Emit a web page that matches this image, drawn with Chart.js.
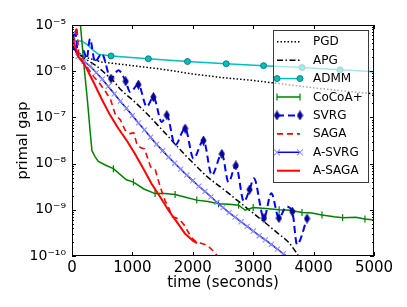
<!DOCTYPE html>
<html>
<head>
<meta charset="utf-8">
<script src="https://cdn.jsdelivr.net/npm/chart.js@4"></script>
<style>
	html, body { margin: 0; padding: 0; background: #fff; }
	#wrap { width: 407px; height: 307px; }
</style>
</head>
<body>
<div id="wrap"><canvas id="chart" width="407" height="307"></canvas></div>
<script>
const xTicks = [0, 1000, 2000, 3000, 4000, 5000];
const yTicks = [1e-10, 1e-9, 1e-8, 1e-7, 1e-6, 1e-5];
const yTickLabels = ['10⁻¹⁰', '10⁻⁹', '10⁻⁸', '10⁻⁷', '10⁻⁶', '10⁻⁵'];

// time (seconds) / primal gap
const pgdTime = [0, 100, 250, 491, 1000, 1500, 2000, 2500, 3000, 3500, 4000, 4500, 5000];
const pgdGap = [4.47e-6, 2.40e-6, 1.95e-6, 1.58e-6, 1.32e-6, 1.10e-6, 8.71e-7, 7.24e-7, 6.31e-7, 5.25e-7, 4.37e-7, 3.72e-7, 3.24e-7];

const apgTime = [0, 100, 200, 300, 400, 500, 600, 700, 800, 900, 1000, 1100, 1200, 1300, 1400, 1500, 1600, 1700, 1800, 1900,
	2000, 2100, 2200, 2300, 2400, 2500, 2600, 2700, 2800, 2900, 3000, 3100, 3200, 3300, 3400, 3500, 3600, 3700, 3800];
const apgGap = [3.55e-6, 2.40e-6, 1.91e-6, 1.58e-6, 1.32e-6, 1.02e-6, 7.76e-7, 5.89e-7, 4.07e-7, 3.09e-7, 2.40e-7, 1.82e-7, 1.35e-7,
	1.00e-7, 7.24e-8, 5.25e-8, 3.80e-8, 2.69e-8, 1.95e-8, 1.41e-8, 1.05e-8, 7.76e-9, 5.75e-9, 4.47e-9, 3.55e-9, 2.82e-9, 2.24e-9,
	1.74e-9, 1.38e-9, 1.07e-9, 8.51e-10, 6.61e-10, 5.25e-10, 4.07e-10, 3.16e-10, 2.51e-10, 1.91e-10, 1.26e-10, 7.94e-11];

const admmTime = [0, 160, 250, 353, 436, 646, 1265, 1912, 2553, 3172, 3808, 4438, 5000];
const admmGap = [4.68e-6, 4.47e-6, 3.80e-6, 2.82e-6, 2.34e-6, 2.14e-6, 1.86e-6, 1.62e-6, 1.45e-6, 1.32e-6, 1.20e-6, 1.07e-6, 9.77e-7];

const cocoaTime = [100, 140, 200, 260, 300, 330, 380, 436, 550, 685, 900, 1017, 1190, 1375, 1540, 1707, 1880, 2066, 2250, 2426,
	2600, 2758, 2868, 3000, 3255, 3430, 3614, 3808, 3970, 4139, 4339, 4480, 4700, 4850, 5000];
const cocoaGap = [2.00e-5, 1.00e-5, 1.26e-6, 2.00e-7, 5.01e-8, 1.91e-8, 1.41e-8, 1.12e-8, 9.33e-9, 7.76e-9, 4.47e-9, 3.98e-9,
	2.82e-9, 2.24e-9, 2.24e-9, 2.14e-9, 1.86e-9, 1.62e-9, 1.51e-9, 1.35e-9, 1.32e-9, 1.26e-9, 9.77e-10, 1.12e-9, 1.05e-9,
	1.00e-9, 9.77e-10, 8.71e-10, 8.51e-10, 7.76e-10, 7.08e-10, 6.76e-10, 6.92e-10, 6.31e-10, 6.03e-10];

const svrgTime = [0, 49, 104, 187, 243, 298, 381, 491, 646, 768, 889, 961, 1099, 1238, 1348, 1486, 1569, 1707, 1873, 2011,
	2177, 2315, 2481, 2591, 2713, 2846, 2940, 3012, 3178, 3300, 3426, 3548, 3648, 3725, 3891];
const svrgGap = [2.63e-6, 7.76e-6, 2.19e-6, 2.82e-6, 1.86e-6, 5.01e-6, 1.58e-6, 2.40e-6, 6.92e-7, 1.05e-6, 6.03e-7, 3.55e-7,
	5.13e-7, 1.70e-7, 2.75e-7, 7.94e-8, 1.12e-7, 2.51e-8, 5.75e-8, 1.29e-8, 3.16e-8, 5.62e-9, 1.62e-8, 3.98e-9, 9.12e-9,
	1.51e-9, 2.75e-9, 4.79e-9, 6.61e-10, 2.29e-9, 6.61e-10, 1.17e-9, 9.12e-10, 1.78e-10, 6.46e-10];

const sagaTime = [0, 40, 80, 110, 160, 270, 360, 450, 560, 640, 720, 800, 880, 960, 1020, 1080, 1140, 1200, 1300, 1380, 1460,
	1540, 1600, 1660, 1720, 1800, 1870, 1940, 2000, 2060, 2150, 2240, 2330, 2420];
const sagaGap = [3.98e-6, 5.01e-6, 9.12e-6, 2.51e-6, 2.04e-6, 1.12e-6, 7.59e-7, 5.62e-7, 3.55e-7, 2.40e-7, 1.12e-7, 8.91e-8,
	5.25e-8, 4.47e-8, 4.68e-8, 2.51e-8, 2.19e-8, 2.09e-8, 8.51e-9, 7.24e-9, 3.16e-9, 1.58e-9, 1.12e-9, 7.08e-10, 6.76e-10,
	5.75e-10, 4.47e-10, 3.02e-10, 2.34e-10, 2.00e-10, 1.86e-10, 1.70e-10, 1.32e-10, 9.55e-11];

const asvrgTime = [0, 100, 200, 300, 400, 500, 600, 700, 800, 900, 1000, 1100, 1200, 1300, 1400, 1500, 1600, 1700, 1800, 1900,
	2000, 2100, 2200, 2300, 2400, 2500, 2600, 2700, 2800, 2900, 3000, 3100, 3200, 3300, 3400, 3500, 3600];
const asvrgGap = [3.98e-6, 2.09e-6, 1.62e-6, 1.29e-6, 9.33e-7, 6.76e-7, 4.68e-7, 3.24e-7, 2.24e-7, 1.58e-7, 1.10e-7, 7.59e-8,
	5.37e-8, 3.72e-8, 2.63e-8, 1.91e-8, 1.38e-8, 1.02e-8, 7.59e-9, 5.62e-9, 4.27e-9, 3.24e-9, 2.51e-9, 1.91e-9, 1.45e-9,
	1.12e-9, 8.71e-10, 6.92e-10, 5.50e-10, 4.37e-10, 3.47e-10, 2.75e-10, 2.24e-10, 1.78e-10, 1.41e-10, 1.12e-10, 8.91e-11];

const asagaTime = [0, 50, 104, 215, 353, 491, 630, 768, 906, 1044, 1182, 1320, 1458, 1597, 1735, 1873, 2011, 2070];
const asagaGap = [5.50e-6, 3.55e-6, 2.04e-6, 1.35e-6, 5.89e-7, 2.51e-7, 1.12e-7, 5.75e-8, 3.16e-8, 1.62e-8, 7.76e-9, 3.63e-9,
	1.91e-9, 9.77e-10, 5.50e-10, 3.02e-10, 2.09e-10, 1.91e-10];

const FONT = '"DejaVu Sans", sans-serif';

function points(t, v) {
	return t.map((x, i) => ({ x: x, y: v[i] }));
}

// thin diamond like matplotlib 'd'
function thinDiamond() {
	const c = document.createElement('canvas');
	c.width = 7;
	c.height = 10;
	const g = c.getContext('2d');
	g.fillStyle = '#0000b0';
	g.strokeStyle = '#000060';
	g.lineWidth = 0.8;
	g.beginPath();
	g.moveTo(3.5, 0.5);
	g.lineTo(6.2, 5);
	g.lineTo(3.5, 9.5);
	g.lineTo(0.8, 5);
	g.closePath();
	g.fill();
	g.stroke();
	return c;
}
const diamond = thinDiamond();

const datasets = [
	{
		label: 'PGD', data: points(pgdTime, pgdGap),
		borderColor: '#000', borderWidth: 1.5, borderDash: [1.5, 2], pointRadius: 0,
	},
	{
		label: 'APG', data: points(apgTime, apgGap),
		borderColor: '#000', borderWidth: 1.5, borderDash: [6, 2.5, 1.5, 2.5], pointRadius: 0,
	},
	{
		label: 'ADMM', data: points(admmTime, admmGap),
		borderColor: '#00bfbf', borderWidth: 1.5,
		pointStyle: 'circle', pointBackgroundColor: '#00bfbf', pointBorderColor: '#006a6a', pointBorderWidth: 0.8,
		pointRadius: (c) => (c.index >= 5 && c.index <= 11 ? 3 : 0),
		legendMarker: 'circle', legendRadius: 3,
	},
	{
		label: 'CoCoA+', data: points(cocoaTime, cocoaGap),
		borderColor: '#008000', borderWidth: 1.5,
		pointStyle: 'line', rotation: 90, pointBorderColor: '#008000', pointBorderWidth: 1.2,
		pointRadius: (c) => (c.index >= 9 && c.index % 2 === 1 ? 3.5 : 0),
		legendMarker: 'vline', legendRadius: 3.5,
	},
	{
		label: 'SVRG', data: points(svrgTime, svrgGap),
		borderColor: '#0000ff', borderWidth: 2, borderDash: [7, 4], cubicInterpolationMode: 'monotone',
		pointStyle: diamond,
		pointRadius: (c) => (c.index >= 8 && c.index % 2 === 0 ? 4 : 0),
		legendMarker: 'diamond',
	},
	{
		label: 'SAGA', data: points(sagaTime, sagaGap),
		borderColor: '#ff0000', borderWidth: 1.6, borderDash: [6, 4], pointRadius: 0,
	},
	{
		label: 'A-SVRG', data: points(asvrgTime, asvrgGap),
		borderColor: '#0000ff', borderWidth: 1.5,
		pointStyle: 'crossRot', pointBackgroundColor: '#9090ff', pointBorderColor: '#9090ff', pointBorderWidth: 1.1, pointRadius: 3.6,
		legendMarker: 'cross', legendRadius: 3,
	},
	{
		label: 'A-SAGA', data: points(asagaTime, asagaGap),
		borderColor: '#ff0000', borderWidth: 2, pointRadius: 0,
	},
];
// later series drawn on top, as in the source figure
datasets.forEach((d, i) => {
	d.order = datasets.length - i;
	d.fill = false;
	d.pointHoverRadius = 0;
});

function drawMarker(ctx, ds, x, y) {
	const r = ds.legendRadius || 3;
	ctx.save();
	ctx.setLineDash([]);
	ctx.beginPath();
	if (ds.legendMarker === 'circle') {
		ctx.fillStyle = ds.pointBackgroundColor;
		ctx.strokeStyle = ds.pointBorderColor;
		ctx.lineWidth = ds.pointBorderWidth;
		ctx.arc(x, y, r, 0, Math.PI * 2);
		ctx.fill();
		ctx.stroke();
	} else if (ds.legendMarker === 'vline') {
		ctx.strokeStyle = ds.pointBorderColor;
		ctx.lineWidth = ds.pointBorderWidth;
		ctx.moveTo(x, y - r);
		ctx.lineTo(x, y + r);
		ctx.stroke();
	} else if (ds.legendMarker === 'cross') {
		ctx.strokeStyle = ds.pointBorderColor;
		ctx.lineWidth = ds.pointBorderWidth;
		ctx.moveTo(x - r, y - r);
		ctx.lineTo(x + r, y + r);
		ctx.moveTo(x + r, y - r);
		ctx.lineTo(x - r, y + r);
		ctx.stroke();
	} else if (ds.legendMarker === 'diamond') {
		ctx.drawImage(diamond, x - diamond.width / 2, y - diamond.height / 2);
	}
	ctx.restore();
}

const frameTicks = {
	id: 'frameTicks',
	afterDatasetsDraw(chart) {
		const { ctx, chartArea: a, scales } = chart;
		ctx.save();
		ctx.strokeStyle = '#000';
		ctx.lineWidth = 1;
		ctx.beginPath();
		xTicks.forEach((v) => {
			const px = Math.round(scales.x.getPixelForValue(v)) + 0.5;
			ctx.moveTo(px, a.bottom);
			ctx.lineTo(px, a.bottom - 4);
			ctx.moveTo(px, a.top);
			ctx.lineTo(px, a.top + 4);
		});
		yTicks.forEach((v, i) => {
			for (let m = 1; m <= 9; m++) {
				if (m > 1 && i === yTicks.length - 1) break;
				const len = m === 1 ? 4 : 2;
				const py = Math.round(scales.y.getPixelForValue(v * m)) + 0.5;
				ctx.moveTo(a.left, py);
				ctx.lineTo(a.left + len, py);
				ctx.moveTo(a.right, py);
				ctx.lineTo(a.right - len, py);
			}
		});
		ctx.stroke();
		ctx.strokeRect(a.left + 0.5, a.top + 0.5, a.width - 1, a.height - 1);
		ctx.restore();
	},
};

const legendBox = {
	id: 'legendBox',
	afterDatasetsDraw(chart) {
		const ctx = chart.ctx;
		const x0 = 273, y0 = 30, w = 95, h = 152;
		ctx.save();
		ctx.fillStyle = 'rgba(255, 255, 255, 0.65)';
		ctx.fillRect(x0, y0, w, h);
		ctx.strokeStyle = '#3a3a3a';
		ctx.lineWidth = 1;
		ctx.strokeRect(x0 + 0.5, y0 + 0.5, w, h);
		chart.data.datasets.forEach((ds, i) => {
			const yy = 41.7 + i * 18.43;
			ctx.setLineDash(ds.borderDash || []);
			ctx.strokeStyle = ds.borderColor;
			ctx.lineWidth = ds.borderWidth;
			ctx.beginPath();
			ctx.moveTo(277, yy);
			ctx.lineTo(300, yy);
			ctx.stroke();
			if (ds.legendMarker) {
				drawMarker(ctx, ds, 277, yy);
				drawMarker(ctx, ds, 300, yy);
			}
			ctx.setLineDash([]);
			ctx.fillStyle = '#000';
			ctx.font = '12px ' + FONT;
			ctx.textBaseline = 'middle';
			ctx.textAlign = 'left';
			ctx.fillText(ds.label, 313, yy + 0.5);
		});
		ctx.restore();
	},
};

new Chart(document.getElementById('chart'), {
	type: 'line',
	data: { datasets: datasets },
	options: {
		responsive: false,
		animation: false,
		events: [],
		layout: { padding: { top: 25, right: 33, left: 0, bottom: 0 } },
		plugins: { legend: { display: false }, tooltip: { enabled: false } },
		scales: {
			x: {
				type: 'linear',
				min: 0,
				max: 5000,
				afterBuildTicks: (s) => { s.ticks = xTicks.map((v) => ({ value: v })); },
				afterFit: (s) => { s.height = 51; },
				grid: { display: false, drawTicks: false },
				border: { display: false },
				ticks: { color: '#000', padding: 3, maxRotation: 0, font: { family: FONT, size: 15 }, callback: (v) => String(v) },
				title: { display: true, text: 'time (seconds)', color: '#000', font: { family: FONT, size: 15 }, padding: { top: 0, bottom: 15 } },
			},
			y: {
				type: 'logarithmic',
				min: 1e-10,
				max: 1e-5,
				afterBuildTicks: (s) => { s.ticks = yTicks.map((v) => ({ value: v })); },
				afterFit: (s) => { s.width = 72; },
				grid: { display: false, drawTicks: false },
				border: { display: false },
				ticks: { color: '#000', padding: 6, font: { family: FONT, size: 14 }, callback: (v, i) => yTickLabels[i] },
				title: { display: true, text: 'primal gap', color: '#000', font: { family: FONT, size: 14.5 }, padding: { top: 15, bottom: 0 } },
			},
		},
	},
	plugins: [frameTicks, legendBox],
});
</script>
</body>
</html>
